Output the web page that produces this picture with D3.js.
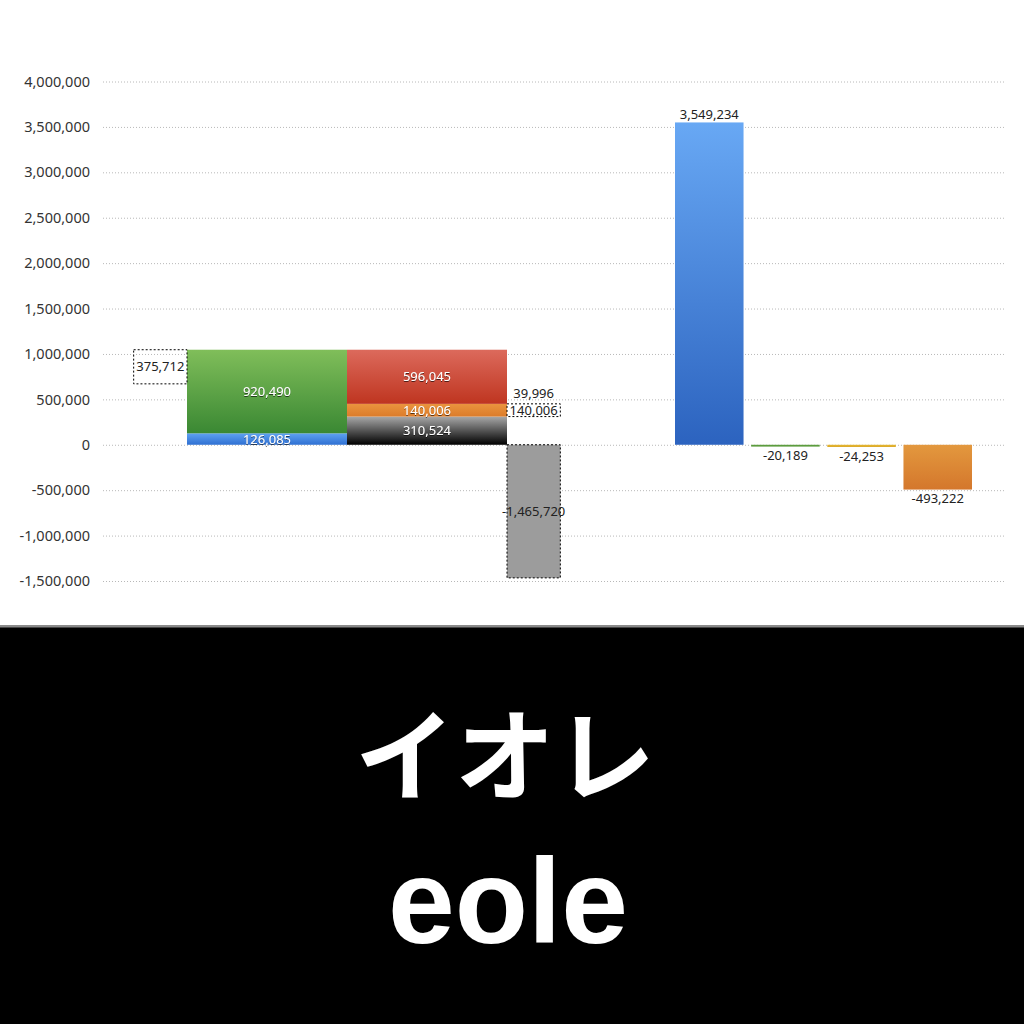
<!DOCTYPE html>
<html>
<head>
<meta charset="utf-8">
<script src="https://cdn.jsdelivr.net/npm/d3@7"></script>
<style>
  body { margin: 0; background: #fff; }
  svg { display: block; }
  .axis text { font-family: "Noto Sans", sans-serif; font-size: 14.5px; fill: #333; }
  .lbl { font-family: "Noto Sans", sans-serif; font-size: 13px; }
</style>
</head>
<body>
<div id="chart"></div>
<script>
// Data
const leftCategories = ["assets", "liabilities"]
const assetValues = [126085, 920490]            // bottom to top
const assetColors = ["blue", "green"]
const liabilityValues = [310524, 140006, 596045] // bottom to top
const liabilityColors = ["black", "orange", "red"]
const noteLeftValue = 375712
const noteRightValues = [140006, 39996]
const lossValue = -1465720

const rightCategories = ["r1", "r2", "r3", "r4"]
const rightValues = [3549234, -20189, -24253, -493222]
const rightColors = ["sky", "flatgreen", "yellow", "amber"]

const yTicks = [-1500000, -1000000, -500000, 0, 500000, 1000000, 1500000,
  2000000, 2500000, 3000000, 3500000, 4000000]

const titleJa = "イオレ"
const titleEn = "eole"

// gradient stops: top, bottom
const palette = {
  blue: ["#5ea2f2", "#2f70d2"],
  green: ["#80be5a", "#3a8833"],
  red: ["#dc6a5c", "#bf3520"],
  orange: ["#ea943e", "#dc7c2a"],
  black: ["#a8a8a8", "#000000"],
  sky: ["#68a8f4", "#2c63bf"],
  flatgreen: ["#5c9c3e", "#5c9c3e"],
  yellow: ["#e6b832", "#d9a626"],
  amber: ["#e3983e", "#d4772c"],
}

// Dimensions
const dimensions = { width: 1024, height: 1024 }

const svg = d3.select('#chart')
  .append("svg")
  .attr("width", dimensions.width)
  .attr("height", dimensions.height)

const defs = svg.append("defs")
Object.entries(palette).forEach(([name, [top, bottom]]) => {
  const g = defs.append("linearGradient")
    .attr("id", "grad-" + name)
    .attr("x1", 0).attr("y1", 0).attr("x2", 0).attr("y2", 1)
  g.append("stop").attr("offset", "0%").attr("stop-color", top)
  g.append("stop").attr("offset", "100%").attr("stop-color", bottom)
})
defs.append("filter").attr("id", "shadow")
  .attr("x", "-10%").attr("y", "-30%").attr("width", "120%").attr("height", "160%")
  .append("feDropShadow")
  .attr("dx", 0).attr("dy", 1).attr("stdDeviation", 0.6)
  .attr("flood-color", "#000").attr("flood-opacity", 0.6)

svg.append("rect")
  .attr("width", dimensions.width)
  .attr("height", dimensions.height)
  .attr("fill", "#fff")

// Scales
const yScale = d3.scaleLinear()
  .domain([-1500000, 4000000])
  .range([581, 81.5])

const xLeft = d3.scaleBand()
  .domain(leftCategories)
  .range([187, 507])
  .padding(0)

const xRight = d3.scaleBand()
  .domain(rightCategories)
  .range([675, 972])
  .paddingInner(0.1)
  .paddingOuter(0)

// plain hyphen for negatives, like the original
const fmt = v => d3.format(",")(v).replace("\u2212", "-")
const narrow = xLeft.bandwidth() / 3

// Axis + grid
const yAxis = d3.axisLeft(yScale)
  .tickValues(yTicks)
  .tickFormat(fmt)
  .tickSize(-(1005 - 103))
  .tickPadding(13)

const yAxisGroup = svg.append("g")
  .attr("transform", "translate(103,0)")
  .classed("axis", true)
  .call(yAxis)
yAxisGroup.select(".domain").remove()
yAxisGroup.selectAll(".tick line")
  .attr("stroke", "#b8b8b8")
  .attr("stroke-dasharray", "1,2")

const ctr = svg.append("g")

// stacked helper
function stack(values) {
  let acc = 0
  return values.map(v => { const d = { y0: acc, y1: acc + v, v }; acc += v; return d })
}

const assetStack = stack(assetValues).map((d, i) => ({ ...d, c: assetColors[i] }))
const liabStack = stack(liabilityValues).map((d, i) => ({ ...d, c: liabilityColors[i] }))

function drawStack(data, cat) {
  ctr.selectAll(null)
    .data(data)
    .join("rect")
    .attr("x", xLeft(cat))
    .attr("width", xLeft.bandwidth())
    .attr("y", d => yScale(d.y1))
    .attr("height", d => yScale(d.y0) - yScale(d.y1))
    .attr("fill", d => `url(#grad-${d.c})`)
  ctr.selectAll(null)
    .data(data)
    .join("text")
    .classed("lbl", true)
    .attr("x", xLeft(cat) + xLeft.bandwidth() / 2)
    .attr("y", d => (yScale(d.y0) + yScale(d.y1)) / 2)
    .attr("dy", "0.35em")
    .attr("text-anchor", "middle")
    .attr("fill", "#fff")
    .attr("filter", "url(#shadow)")
    .text(d => fmt(d.v))
}
drawStack(assetStack, "assets")
drawStack(liabStack, "liabilities")

const total = d3.sum(assetValues)

// left dashed note box
const noteX0 = xLeft("assets") - narrow
ctr.append("rect")
  .attr("x", noteX0)
  .attr("width", narrow)
  .attr("y", yScale(total))
  .attr("height", yScale(total - noteLeftValue) - yScale(total))
  .attr("fill", "none")
  .attr("stroke", "#000")
  .attr("stroke-dasharray", "2,2")
ctr.append("text")
  .classed("lbl", true)
  .attr("x", noteX0 + narrow / 2)
  .attr("y", yScale(total) + 17)
  .attr("dy", "0.35em")
  .attr("text-anchor", "middle")
  .attr("fill", "#222")
  .text(fmt(noteLeftValue))

// right side notes and loss bar
const sideX = xLeft("liabilities") + xLeft.bandwidth()
const boxBase = liabilityValues[0]
const boxTop = boxBase + noteRightValues[0]
ctr.append("text")
  .classed("lbl", true)
  .attr("x", sideX + narrow / 2)
  .attr("y", yScale(boxTop + noteRightValues[1]) - 7)
  .attr("dy", "0.35em")
  .attr("text-anchor", "middle")
  .attr("fill", "#222")
  .text(fmt(noteRightValues[1]))
ctr.append("rect")
  .attr("x", sideX)
  .attr("width", narrow)
  .attr("y", yScale(boxTop))
  .attr("height", yScale(boxBase) - yScale(boxTop))
  .attr("fill", "#fff")
  .attr("stroke", "#000")
  .attr("stroke-dasharray", "2,2")
ctr.append("text")
  .classed("lbl", true)
  .attr("x", sideX + narrow / 2)
  .attr("y", (yScale(boxTop) + yScale(boxBase)) / 2)
  .attr("dy", "0.35em")
  .attr("text-anchor", "middle")
  .attr("fill", "#222")
  .text(fmt(noteRightValues[0]))

ctr.append("rect")
  .attr("x", sideX)
  .attr("width", narrow)
  .attr("y", yScale(0))
  .attr("height", yScale(lossValue) - yScale(0))
  .attr("fill", "#9c9c9c")
  .attr("stroke", "#000")
  .attr("stroke-dasharray", "2,2")
ctr.append("text")
  .classed("lbl", true)
  .attr("x", sideX + narrow / 2)
  .attr("y", (yScale(0) + yScale(lossValue)) / 2)
  .attr("dy", "0.35em")
  .attr("text-anchor", "middle")
  .attr("fill", "#222")
  .text(fmt(lossValue))

// right group
const rightData = rightCategories.map((c, i) => ({ c, v: rightValues[i], col: rightColors[i] }))
ctr.selectAll(null)
  .data(rightData)
  .join("rect")
  .attr("x", d => xRight(d.c))
  .attr("width", xRight.bandwidth())
  .attr("y", d => yScale(Math.max(0, d.v)))
  .attr("height", d => Math.abs(yScale(d.v) - yScale(0)))
  .attr("fill", d => `url(#grad-${d.col})`)
ctr.selectAll(null)
  .data(rightData)
  .join("text")
  .classed("lbl", true)
  .attr("x", d => xRight(d.c) + xRight.bandwidth() / 2)
  .attr("y", d => d.v >= 0 ? yScale(d.v) - 8 : yScale(d.v) + 9)
  .attr("dy", "0.35em")
  .attr("text-anchor", "middle")
  .attr("fill", "#222")
  .text(d => fmt(d.v))

// bottom banner
svg.append("rect")
  .attr("x", 0).attr("y", 626)
  .attr("width", dimensions.width).attr("height", 400)
  .attr("fill", "#000")
svg.append("rect")
  .attr("x", 0).attr("y", 625)
  .attr("width", dimensions.width).attr("height", 2.5)
  .attr("fill", "#8a8a8a")
svg.append("text")
  .attr("x", 505)
  .attr("y", 793)
  .attr("text-anchor", "middle")
  .attr("fill", "#fff")
  .style("font-family", "'Noto Sans CJK JP', sans-serif")
  .style("font-weight", 700)
  .style("font-size", "100px")
  .text(titleJa)
svg.append("text")
  .attr("x", 508)
  .attr("y", 943)
  .attr("text-anchor", "middle")
  .attr("fill", "#fff")
  .style("font-family", "'Liberation Sans', Arial, sans-serif")
  .style("font-weight", 700)
  .style("font-size", "120px")
  .text(titleEn)
</script>
</body>
</html>
